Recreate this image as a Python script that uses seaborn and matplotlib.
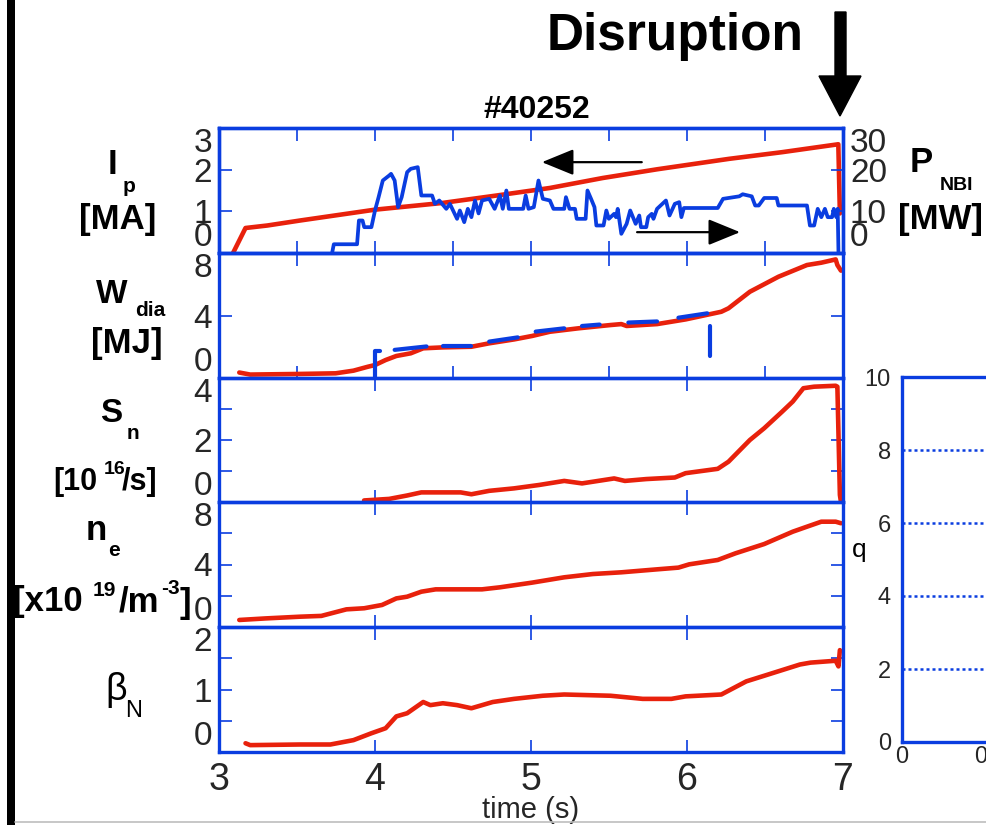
import numpy as np
import pandas as pd
import matplotlib
matplotlib.use("Agg")
import matplotlib.pyplot as plt
from matplotlib.patches import Polygon, Rectangle
from matplotlib.lines import Line2D
import seaborn as sns

# ---------------- discharge #40252 time traces ----------------
ip_t = [3.09, 3.17, 3.31, 3.52, 4.00, 4.43, 4.78, 5.12, 5.46, 5.81, 6.27, 6.61, 6.97, 6.98]
ip_val = [0.0, 0.60, 0.66, 0.78, 1.04, 1.20, 1.38, 1.56, 1.80, 2.01, 2.26, 2.42, 2.61, 0.95]

pnbi_t = [3.725, 3.736, 3.885, 3.897, 3.92, 3.931, 3.977, 4.0, 4.023, 4.05, 4.091, 4.103, 4.126,
          4.148, 4.171, 4.206, 4.229, 4.274, 4.297, 4.366, 4.384, 4.412, 4.457, 4.48, 4.526, 4.544,
          4.572, 4.595, 4.618, 4.641, 4.664, 4.686, 4.732, 4.767, 4.801, 4.819, 4.842, 4.858, 4.95,
          4.966, 4.984, 5.018, 5.048, 5.076, 5.121, 5.144, 5.213, 5.224, 5.247, 5.282, 5.293, 5.35,
          5.362, 5.385, 5.407, 5.419, 5.465, 5.483, 5.499, 5.533, 5.545, 5.556, 5.579, 5.613, 5.636,
          5.671, 5.694, 5.705, 5.739, 5.751, 5.774, 5.785, 5.808, 5.865, 5.888, 5.922, 5.95, 5.964,
          5.98, 6.197, 6.231, 6.335, 6.357, 6.415, 6.437, 6.46, 6.495, 6.575, 6.586, 6.769, 6.788,
          6.815, 6.838, 6.861, 6.884, 6.902, 6.93, 6.941, 6.957, 6.966, 6.971]
pnbi_val = [0, 2.1, 2.1, 7.8, 7.8, 6.2, 6.2, 10.2, 13.4, 17.4, 18.6, 19.0, 17.4,
            11.0, 13.4, 19.4, 20.2, 20.6, 13.8, 13.8, 11.8, 12.6, 10.6, 11.8, 8.2, 10.2,
            7.4, 10.6, 8.6, 12.6, 9.5, 12.6, 13.0, 10.6, 13.8, 10.6, 15.0, 10.6, 10.6,
            13.8, 10.6, 11.0, 17.4, 13.0, 12.6, 10.6, 10.6, 13.4, 10.6, 10.6, 8.2, 8.2,
            15.0, 13.0, 11.0, 6.6, 6.6, 10.2, 8.2, 9.4, 8.6, 10.6, 4.6, 7.0, 10.2,
            7.0, 9.0, 6.2, 6.2, 8.6, 9.4, 8.2, 10.6, 12.6, 9.0, 11.8, 12.2, 8.6,
            10.8, 10.8, 13.0, 13.6, 14.1, 13.6, 11.4, 11.4, 13.2, 13.2, 11.4, 11.4, 6.6,
            6.6, 10.6, 8.6, 10.6, 8.6, 8.6, 10.6, 8.6, 10.6, 0]

wdia_t = [3.13, 3.2, 3.52, 3.748, 3.862, 3.954, 4.0, 4.068, 4.137, 4.229, 4.309, 4.435, 4.618,
          4.732, 4.892, 5.007, 5.121, 5.304, 5.51, 5.579, 5.613, 5.808, 5.991, 6.22, 6.266, 6.403,
          6.586, 6.769, 6.861, 6.953, 6.964, 6.987]
wdia_val = [0.35, 0.22, 0.26, 0.30, 0.47, 0.72, 0.83, 1.15, 1.41, 1.58, 1.90, 1.96, 2.0,
            2.22, 2.47, 2.69, 2.96, 3.18, 3.39, 3.45, 3.33, 3.45, 3.75, 4.24, 4.46, 5.52,
            6.48, 7.23, 7.38, 7.59, 7.23, 6.87]

# second stored-energy signal, shown only where it is recorded (segment id per piece)
wmag_seg = [0, 0, 0, 1, 1, 2, 2, 3, 3, 4, 4, 5, 5, 6, 6, 7, 7, 8, 8]
wmag_t = [4.0, 4.0, 4.03, 4.126, 4.33, 4.435, 4.618, 4.732, 4.915, 5.03, 5.213, 5.327, 5.44,
          5.624, 5.808, 5.945, 6.13, 6.147, 6.147]
wmag_val = [0.05, 1.72, 1.72, 1.80, 2.02, 2.05, 2.05, 2.33, 2.60, 2.97, 3.18, 3.33, 3.42,
            3.55, 3.62, 3.86, 4.14, 3.30, 1.40]

sn_t = [3.93, 4.091, 4.206, 4.297, 4.549, 4.618, 4.732, 4.892, 5.053, 5.213, 5.327, 5.533, 5.602,
        5.739, 5.922, 5.991, 6.197, 6.266, 6.403, 6.495, 6.609, 6.678, 6.746, 6.815, 6.953, 6.964,
        6.98, 6.987]
sn_val = [0.05, 0.10, 0.21, 0.31, 0.31, 0.25, 0.36, 0.44, 0.55, 0.68, 0.60, 0.76, 0.68,
          0.74, 0.79, 0.93, 1.07, 1.30, 2.00, 2.38, 2.91, 3.24, 3.67, 3.72, 3.75, 3.72,
          0.23, 0.0]

ne_t = [3.13, 3.3, 3.52, 3.656, 3.817, 3.931, 4.045, 4.137, 4.206, 4.297, 4.389, 4.686, 4.801,
        5.007, 5.213, 5.396, 5.579, 5.808, 5.945, 6.014, 6.197, 6.312, 6.495, 6.678, 6.769, 6.861,
        6.953, 6.987]
ne_val = [0.45, 0.55, 0.66, 0.71, 1.13, 1.20, 1.41, 1.83, 1.94, 2.26, 2.41, 2.41, 2.54,
          2.84, 3.18, 3.39, 3.50, 3.69, 3.80, 4.01, 4.29, 4.72, 5.31, 6.10, 6.42, 6.74,
          6.74, 6.64]

bn_t = [3.17, 3.2, 3.52, 3.714, 3.862, 3.977, 4.068, 4.137, 4.206, 4.309, 4.355, 4.435, 4.526,
        4.618, 4.755, 4.892, 5.075, 5.213, 5.51, 5.716, 5.9, 5.991, 6.22, 6.38, 6.495, 6.724,
        6.792, 6.953, 6.971, 6.98]
bn_val = [0.14, 0.11, 0.12, 0.12, 0.19, 0.30, 0.38, 0.57, 0.62, 0.80, 0.75, 0.78, 0.75,
          0.70, 0.80, 0.85, 0.90, 0.92, 0.90, 0.85, 0.85, 0.89, 0.92, 1.13, 1.22, 1.40,
          1.43, 1.46, 1.37, 1.63]

time_ticks = [3, 4, 5, 6, 7]
time_labels = ["3", "4", "5", "6", "7"]

# ---------------- style ----------------
sns.set_theme(style="white")
plt.rcParams["font.family"] = ["Liberation Sans", "DejaVu Sans"]
plt.rcParams["lines.solid_capstyle"] = "round"
plt.rcParams["lines.solid_joinstyle"] = "round"

FRAME = "#0a3de0"
RED = "#e8210c"
BLUE = "#0a3de0"
W, H = 987, 825
YLAB = 24

fig = plt.figure(figsize=(W / 100, H / 100), dpi=100)
fig.patch.set_facecolor("white")


def rect(left, top, right, bottom):
    return [left / W, 1 - bottom / H, (right - left) / W, (bottom - top) / H]


def ftext(x, y, s, size, weight="bold", ha="center", va="center", **kw):
    fig.text(x / W, 1 - y / H, s, fontsize=size, fontweight=weight, ha=ha, va=va,
             color="black", **kw)


def style_frame(ax):
    for sp in ax.spines.values():
        sp.set_color(FRAME)
        sp.set_linewidth(2.4)
        sp.set_visible(True)
    ax.set_facecolor("none")


def set_y(ax, ticks, labels, right_mirror=True):
    ax.set_ylim(ticks[0], ticks[-1])
    ax.set_yticks(ticks)
    ax.set_yticklabels(labels)
    ax.tick_params(axis="y", direction="in", length=9, width=1.2, color=FRAME,
                   labelsize=YLAB, pad=5, left=True, right=right_mirror)
    lbls = ax.get_yticklabels()
    lbls[0].set_va("bottom")
    lbls[-1].set_va("top")


def line(ax, t, v, color, lw, **kw):
    df = pd.DataFrame({"t": t, "v": v})
    sns.lineplot(data=df, x="t", y="v", ax=ax, color=color, lw=lw, sort=False,
                 estimator=None, legend=False, **kw)
    ax.set_xlabel("")
    ax.set_ylabel("")


edges = [128, 253, 378, 502, 627, 752]
axes = [fig.add_axes(rect(219, edges[i], 843, edges[i + 1])) for i in range(5)]
ax_ip, ax_w, ax_sn, ax_ne, ax_bn = axes

# Ip and NBI power
line(ax_ip, ip_t, ip_val, RED, 3.3)
ax_p = ax_ip.twinx()
line(ax_p, pnbi_t, pnbi_val, BLUE, 2.7)

line(ax_w, wdia_t, wdia_val, RED, 3.3)
dfm = pd.DataFrame({"t": wmag_t, "v": wmag_val, "seg": wmag_seg})
sns.lineplot(data=dfm, x="t", y="v", units="seg", ax=ax_w, color=BLUE, lw=3.0, sort=False,
             estimator=None, legend=False)
ax_w.set_xlabel("")
ax_w.set_ylabel("")

line(ax_sn, sn_t, sn_val, RED, 3.3)
line(ax_ne, ne_t, ne_val, RED, 3.3)
line(ax_bn, bn_t, bn_val, RED, 3.3)

for i, ax in enumerate(axes):
    style_frame(ax)
    ax.set_xlim(3, 7)
    if i < 2:
        ax.set_xticks(np.arange(3, 7.01, 0.5))
    else:
        ax.set_xticks(time_ticks)
    ax.tick_params(axis="x", direction="in", length=9, width=1.2, color=FRAME,
                   top=True, bottom=True, labelbottom=False)

set_y(ax_ip, [0, 1, 2, 3], ["0", "1", "2", "3"], right_mirror=False)
set_y(ax_w, [0, 4, 8], ["0", "4", "8"])
set_y(ax_sn, [0, 1, 2, 3, 4], ["0", "", "2", "", "4"])
set_y(ax_ne, [0, 2, 4, 6, 8], ["0", "", "4", "", "8"])
set_y(ax_bn, [0, 0.5, 1, 1.5, 2], ["0", "", "1", "", "2"])

style_frame(ax_p)
ax_p.set_ylim(0, 30)
ax_p.set_yticks([0, 10, 20, 30])
ax_p.set_yticklabels(["0", "10", "20", "30"])
ax_p.tick_params(axis="y", direction="in", length=9, width=1.2, color=FRAME,
                 labelsize=YLAB, pad=5, right=True, left=False)
ax_p.get_yticklabels()[0].set_va("bottom")
ax_p.get_yticklabels()[-1].set_va("top")

ax_bn.set_xticks(time_ticks)
ax_bn.set_xticklabels(time_labels)
ax_bn.tick_params(axis="x", labelbottom=True, labelsize=27, pad=7)
ax_bn.set_xlabel("time (s)", fontsize=21, labelpad=-1)

# direction arrows for the two scales of the first panel
arrow_kw = dict(arrowstyle="-|>,head_length=1.1,head_width=0.45", color="black", lw=1.6,
                mutation_scale=18, shrinkA=0, shrinkB=0)
ax_ip.annotate("", xy=(5.07, 2.18), xytext=(5.71, 2.18), arrowprops=arrow_kw)
ax_ip.annotate("", xy=(6.34, 0.5), xytext=(5.68, 0.5), arrowprops=arrow_kw)

# ---------------- safety-factor panel ----------------
ax_q = fig.add_axes(rect(902, 377, 1347, 742))
ax_q.set_facecolor("none")
for name, sp in ax_q.spines.items():
    sp.set_color(FRAME)
    sp.set_linewidth(2.4)
ax_q.set_xlim(0, 1)
ax_q.set_ylim(0, 10)
ax_q.set_yticks([0, 2, 4, 6, 8, 10])
ax_q.set_yticklabels(["0", "2", "4", "6", "8", "10"])
ax_q.set_xticks([0, 0.2, 0.4, 0.6, 0.8, 1.0])
ax_q.set_xticklabels(["0", "0.2", "0.4", "0.6", "0.8", "1"])
ax_q.tick_params(axis="both", length=0, labelsize=17)
ax_q.tick_params(axis="y", pad=8)
ax_q.tick_params(axis="x", pad=3)
ax_q.grid(False)
for yv in [2, 4, 6, 8]:
    ax_q.axhline(yv, color=FRAME, lw=1.8, ls=(0, (1.2, 1.2)))

# ---------------- labels ----------------
ftext(113, 164, "I", 25)
ftext(129, 187, "p", 15)
ftext(118, 220, "[MA]", 25)

ftext(112, 294, "W", 24)
ftext(150, 311, "dia", 15)
ftext(127, 344, "[MJ]", 25)

ftext(111, 413, "S", 24)
ftext(133, 433, "n", 15)
ftext(53, 482, "[10", 22, ha="left")
ftext(104, 470, "16", 14, ha="left")
ftext(122, 482, "/s]", 22, ha="left")

ftext(96, 530, "n", 25)
ftext(114, 551, "e", 15)
ftext(13, 602, "[x10", 25, ha="left")
ftext(93, 591, "19", 15, ha="left")
ftext(119, 602, "/m", 25, ha="left")
ftext(161, 589, "-3", 15, ha="left")
ftext(180, 603, "]", 25, ha="left")

ftext(116, 690, "β", 27, weight="normal")
ftext(134, 711, "N", 17, weight="normal")

ftext(921, 163, "P", 25)
ftext(957, 186, "NBI", 14)
ftext(941, 219, "[MW]", 25)

ftext(859, 550, "q", 19, weight="normal")

ftext(537, 110, "#40252", 23)
ftext(675, 50, "Disruption", 37, va="baseline")

# disruption marker arrow
arrow_px = [(835, 12), (846, 12), (846, 76), (861, 76), (840, 116), (819, 76), (835, 76)]
fig.add_artist(Polygon([(x / W, 1 - y / H) for x, y in arrow_px], closed=True,
                       transform=fig.transFigure, facecolor="black", edgecolor="black"))

# page border marks
fig.add_artist(Rectangle((7 / W, 0), 8 / W, 1, transform=fig.transFigure,
                         facecolor="black", edgecolor="none"))
fig.add_artist(Line2D([15 / W, 1], [1 - 822 / H, 1 - 822 / H], transform=fig.transFigure,
                      color="#bdbdbd", lw=1.2))

fig.savefig("out.png", dpi=100, facecolor="white")
